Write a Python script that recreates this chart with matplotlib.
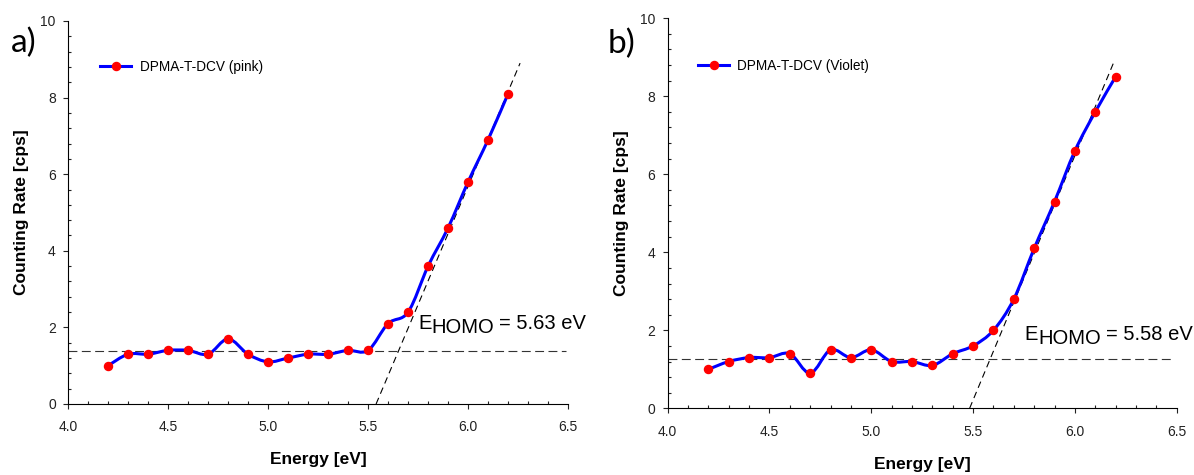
import numpy as np
import matplotlib
matplotlib.use("Agg")
import matplotlib.pyplot as plt
from matplotlib.path import Path
from matplotlib.patches import PathPatch
from matplotlib.lines import Line2D
from matplotlib.ticker import MultipleLocator, FormatStrFormatter

plt.rcParams['font.family'] = ['Liberation Sans', 'DejaVu Sans']

energy = [4.2, 4.3, 4.4, 4.5, 4.6, 4.7, 4.8, 4.9, 5.0, 5.1, 5.2,
          5.3, 5.4, 5.5, 5.6, 5.7, 5.8, 5.9, 6.0, 6.1, 6.2]
rate_pink = [1.0, 1.3, 1.3, 1.4, 1.4, 1.3, 1.7, 1.3, 1.1, 1.2, 1.3,
             1.3, 1.4, 1.4, 2.1, 2.4, 3.6, 4.6, 5.8, 6.9, 8.1]
rate_violet = [1.0, 1.2, 1.3, 1.3, 1.4, 0.9, 1.5, 1.3, 1.5, 1.2, 1.2,
               1.1, 1.4, 1.6, 2.0, 2.8, 4.1, 5.3, 6.6, 7.6, 8.5]

# baseline level and tangent lines (two end points each)
base_pink = 1.39
base_violet = 1.26
base_x = [4.0, 6.49]
base_x_v = [4.0, 6.47]
tangent_pink_x = [5.54, 6.26]
tangent_pink_y = [0.0, 8.9]
tangent_violet_x = [5.483, 6.19]
tangent_violet_y = [0.0, 8.86]

labels = ["DPMA-T-DCV (pink)", "DPMA-T-DCV (Violet)"]
ehomo = ["5.63", "5.58"]
panel_letters = ["a)", "b)"]


def smooth_path(x, y):
    x = np.asarray(x, float)
    y = np.asarray(y, float)
    n = len(x)
    verts = [(x[0], y[0])]
    codes = [Path.MOVETO]
    for i in range(n - 1):
        i0 = max(i - 1, 0)
        i3 = min(i + 2, n - 1)
        c1 = (x[i] + (x[i + 1] - x[i0]) / 6, y[i] + (y[i + 1] - y[i0]) / 6)
        c2 = (x[i + 1] - (x[i3] - x[i]) / 6, y[i + 1] - (y[i3] - y[i]) / 6)
        verts += [c1, c2, (x[i + 1], y[i + 1])]
        codes += [Path.CURVE4] * 3
    return Path(verts, codes)


fig = plt.figure(figsize=(11.94, 4.75), dpi=100)
axes = [fig.add_axes([0.0570, 0.1495, 0.4188, 0.8063]),
        fig.add_axes([0.5592, 0.1404, 0.4263, 0.8211])]

series = [rate_pink, rate_violet]
bases = [base_pink, base_violet]
bxs = [base_x, base_x_v]
tx = [tangent_pink_x, tangent_violet_x]
ty = [tangent_pink_y, tangent_violet_y]
text_pos = [(5.75, 1.95), (5.753, 1.74)]
legend_anchor = [(0.064, 0.88), (0.0595, 0.878)]
letter_pos = [(0.009, 0.89), (0.509, 0.888)]

for k, ax in enumerate(axes):
    ax.set_xlim(4.0, 6.5)
    ax.set_ylim(0, 10)
    for s in ['top', 'right']:
        ax.spines[s].set_visible(False)
    ax.xaxis.set_major_locator(MultipleLocator(0.5))
    ax.xaxis.set_minor_locator(MultipleLocator(0.1))
    ax.yaxis.set_major_locator(MultipleLocator(2))
    ax.yaxis.set_minor_locator(MultipleLocator(0.4))
    ax.xaxis.set_major_formatter(FormatStrFormatter('%.1f'))
    ax.tick_params(which='major', direction='out', length=3.8, width=0.8,
                   labelsize=10, colors='#222222')
    ax.tick_params(which='minor', direction='in', length=2.5, width=0.8,
                   colors='#222222')
    ax.tick_params(axis='x', which='major', pad=8)
    ax.tick_params(axis='y', which='major', pad=5)

    ax.plot(bxs[k], [bases[k], bases[k]], color='#333333', lw=0.8,
            dashes=(8, 4), zorder=2)
    ax.plot(tx[k], ty[k], color='black', lw=0.8, dashes=(6, 4), zorder=2)

    patch = PathPatch(smooth_path(energy, series[k]), facecolor='none',
                      edgecolor='#0000FF', lw=2.2, zorder=3)
    ax.add_patch(patch)
    ax.plot(energy, series[k], linestyle='none', marker='o', ms=5.8,
            color='#FF0000', markeredgecolor='#FF0000', zorder=4)

    ax.set_xlabel("Energy [eV]", fontweight='bold', fontsize=12.5, labelpad=13)
    ax.set_ylabel("Counting Rate [cps]", fontweight='bold', fontsize=12.5,
                  labelpad=8)

    h = Line2D([], [], color='#0000FF', lw=2.2, marker='o', ms=5.8,
               markerfacecolor='#FF0000', markeredgecolor='#FF0000')
    ax.legend([h], [labels[k]], loc='center left', bbox_to_anchor=legend_anchor[k],
              frameon=False, fontsize=9.8, handlelength=2.3, handletextpad=0.6,
              borderaxespad=0, borderpad=0)

    tx0, ty0 = text_pos[k]
    tE = ax.text(tx0, ty0, "E", fontsize=14.5, clip_on=False,
                 ha='left', va='baseline')
    tH = ax.annotate("HOMO", xy=(1, 0), xycoords=tE, xytext=(0, -2.5),
                     textcoords='offset points', fontsize=14.5, ha='left',
                     va='bottom', annotation_clip=False)
    ax.annotate("= " + ehomo[k] + " eV", xy=(1, 0), xycoords=tH,
                xytext=(3.5, 2.5), textcoords='offset points', fontsize=14.5,
                ha='left', va='bottom', annotation_clip=False)

    fig.text(letter_pos[k][0], letter_pos[k][1], panel_letters[k], fontsize=24,
             family=['Lato', 'DejaVu Sans'])

fig.savefig("out.png", dpi=100)
